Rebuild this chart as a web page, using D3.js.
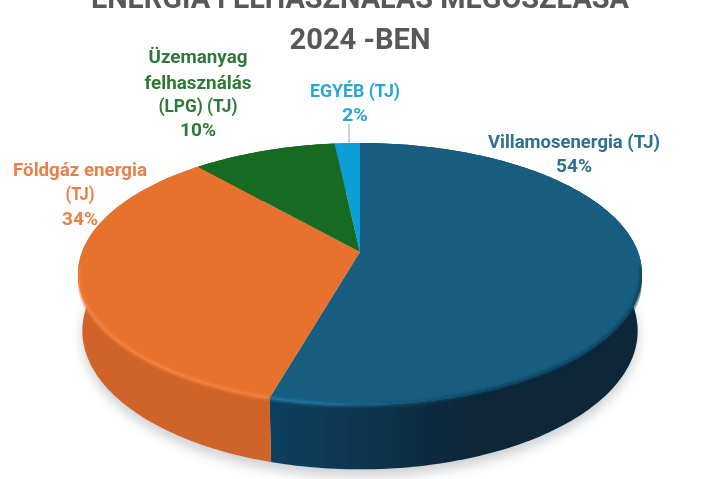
<!DOCTYPE html>
<html><head><meta charset="utf-8">
<script src="https://cdn.jsdelivr.net/npm/d3@7"></script>
<style>html,body{margin:0;padding:0;background:#fff;overflow:hidden}svg{display:block}</style>
</head><body><svg id="c" width="720" height="479"></svg>
<script>
const categories=["Villamosenergia (TJ)","Földgáz energia (TJ)","Üzemanyag felhasználás (LPG) (TJ)","EGYÉB (TJ)"];
const shares=[54.4,34.2,9.7,1.7];
const topColors=["#155d80","#e6722f","#196b24","#0f9ed5"];
const rimColors=["#0c405e","#cf6429","#12501b","#0b7aa5"];
const rimDark=["#082639","#bb5a26","#0e3d15","#095f80"];
const edgeLeft=["#2478a0","#f9833f","#2a8a37","#2cb5e8"];
const edgeRight=["#0b3850","#f47c3a","#196b24","#0f9ed5"];
const labelLines=[["Villamosenergia (TJ)","54%"],["Földgáz energia","(TJ)","34%"],["Üzemanyag","felhasználás","(LPG) (TJ)","10%"],["EGYÉB (TJ)","2%"]];
const titleLines=["ENERGIA FELHASZNÁLÁS MEGOSZLÁSA","2024 -BEN"];

const cx=360,cy=252,b=278,a=127.3,k=0.168,depth=56;
const svg=d3.select("#c");
const defs=svg.append("defs");
const blur=(id,s)=>defs.append("filter").attr("id",id).attr("x","-20%").attr("y","-20%").attr("width","140%").attr("height","140%").append("feGaussianBlur").attr("stdDeviation",s);
blur("b05",0.55);blur("b2",1.8);blur("b6",6);

const pie=d3.pie().sort(null).value(d=>d);
const arcs=pie(shares);
const proj=(t,r=1,dz=0)=>{const u=r*Math.sin(t),v=-r*Math.cos(t),w=1-k*v;return [cx+b*u/w,cy+a*v/w+dz/w];};
const samples=(t0,t1)=>{const n=Math.max(2,Math.ceil((t1-t0)/0.02));return d3.range(n+1).map(i=>t0+(t1-t0)*i/n);};
const line=d3.line();
const faceD=d=>line([[cx,cy],...samples(d.startAngle,d.endAngle).map(t=>proj(t))])+"Z";
const rimD=d=>{const s=samples(d.startAngle,d.endAngle);return line([...s.map(t=>proj(t)),...s.slice().reverse().map(t=>proj(t,0.985,depth))])+"Z";};
const frontSamples=d=>samples(d.startAngle,d.endAngle).filter(t=>-Math.cos(t)>0.1);

arcs.forEach((d,i)=>{
  const g=defs.append("linearGradient").attr("id","rim"+i).attr("gradientUnits","userSpaceOnUse").attr("x1",78).attr("x2",642).attr("y1",0).attr("y2",0);
  [[0,rimColors[i]],[0.35,rimColors[i]],[0.7,rimDark[i]],[1,rimDark[i]]].forEach(s=>g.append("stop").attr("offset",s[0]).attr("stop-color",s[1]));
  const e=defs.append("linearGradient").attr("id","edge"+i).attr("gradientUnits","userSpaceOnUse").attr("x1",78).attr("x2",642).attr("y1",0).attr("y2",0);
  [[0,edgeLeft[i]],[0.4,edgeLeft[i]],[0.72,edgeRight[i]],[1,edgeRight[i]]].forEach(s=>e.append("stop").attr("offset",s[0]).attr("stop-color",s[1]));
});

const all=d3.range(0,Math.PI*2+0.02,0.02);
svg.append("path").attr("d",line(all.map(t=>proj(t,0.985,depth+6)))+"Z").attr("fill","#b9bcc0").attr("opacity",0.7).attr("filter","url(#b6)");

const chart=svg.append("g").attr("filter","url(#b05)");
chart.selectAll("path.rim").data(arcs).join("path").attr("class","rim").attr("d",rimD).attr("fill",(d,i)=>`url(#rim${i})`);
chart.selectAll("path.face").data(arcs).join("path").attr("class","face").attr("d",faceD).attr("fill",(d,i)=>topColors[i]);
defs.append("clipPath").attr("id","topClip").append("path").attr("d",line(all.map(t=>proj(t,1,7)))+"Z");
chart.append("g").attr("clip-path","url(#topClip)").selectAll("path").data(arcs).join("path").attr("d",d=>line(frontSamples(d).map(t=>proj(t,1)))).attr("fill","none").attr("stroke",(d,i)=>`url(#edge${i})`).attr("stroke-width",3.5).attr("opacity",0.9).attr("filter","url(#b2)");

const font='"Roboto","Liberation Sans",sans-serif';
const text=svg.append("g").attr("font-family",font).attr("font-weight",700).attr("text-anchor","middle").attr("filter","url(#b05)");
const titleY=[8,49],titleW=[538,141];
titleLines.forEach((t,i)=>text.append("text").attr("x",360).attr("y",titleY[i]).attr("font-size",30).attr("fill","#595959").attr("textLength",titleW[i]).attr("lengthAdjust","spacingAndGlyphs").text(t));

const labelX=[574,80,198,355];
const labelY=[[148,172],[176,200,225],[63,89,112,136],[97,121]];
const labelW={"Villamosenergia (TJ)":172,"54%":36,"Földgáz energia":134,"(TJ)":29,"34%":36,"Üzemanyag":99,"felhasználás":107,"(LPG) (TJ)":79,"10%":36,"EGYÉB (TJ)":90,"2%":26};
const labelFill=["#156082","#e97132","#196b24","#0f9ed5"];
labelLines.forEach((ls,i)=>ls.forEach((t,j)=>text.append("text").attr("x",labelX[i]).attr("y",labelY[i][j]).attr("font-size",18.5).attr("fill",labelFill[i]).attr("opacity",0.9).attr("textLength",labelW[t]).attr("lengthAdjust","spacingAndGlyphs").text(t)));
svg.append("line").attr("x1",349).attr("x2",349).attr("y1",124).attr("y2",143).attr("stroke","#a6a6a6").attr("stroke-width",1);
</script></body></html>
